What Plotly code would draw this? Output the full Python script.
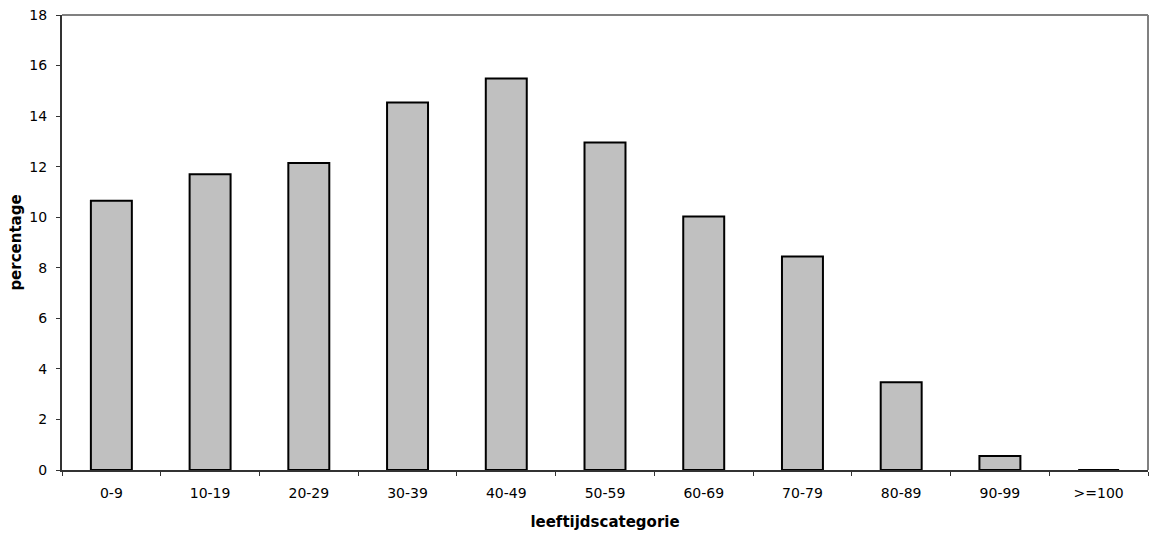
import plotly.graph_objects as go

categories = ["0-9", "10-19", "20-29", "30-39", "40-49", "50-59", "60-69", "70-79", "80-89", "90-99", ">=100"]
percentages = [10.65, 11.7, 12.15, 14.54, 15.49, 12.96, 10.03, 8.45, 3.47, 0.55, 0.0]
y_ticks = [0, 2, 4, 6, 8, 10, 12, 14, 16, 18]

fig = go.Figure(
    go.Bar(
        x=categories,
        y=percentages,
        marker=dict(color="#c0c0c0", line=dict(color="#000000", width=2)),
        width=0.415,
    )
)

font = "DejaVu Sans, Liberation Sans, Arial, sans-serif"
fig.update_layout(
    width=1151,
    height=536,
    margin=dict(l=62, r=3, t=15, b=66),
    plot_bgcolor="white",
    paper_bgcolor="white",
    showlegend=False,
    font=dict(family=font, size=14, color="#000000"),
)
fig.update_xaxes(
    type="category",
    automargin=False,
    showline=True,
    linecolor="#333333",
    linewidth=2,
    ticks="outside",
    tickson="boundaries",
    ticklen=4,
    tickcolor="#333333",
    showgrid=False,
    ticklabelstandoff=9,
    title=dict(text="<b>leeftijdscategorie</b>", font=dict(size=15), standoff=17),
    tickfont=dict(size=14),
)
fig.update_yaxes(
    range=[0, 18],
    tickvals=y_ticks,
    automargin=False,
    showline=True,
    linecolor="#333333",
    linewidth=2,
    ticks="outside",
    ticklen=4,
    tickcolor="#333333",
    showgrid=False,
    zeroline=False,
    ticklabelstandoff=6,
    title=dict(text="<b>percentage</b>", font=dict(size=15), standoff=4),
    tickfont=dict(size=14),
)
# gray top and right frame
fig.add_shape(type="line", xref="paper", yref="paper", x0=0, x1=1, y0=1, y1=1,
              line=dict(color="#808080", width=2))
fig.add_shape(type="line", xref="paper", yref="paper", x0=1, x1=1, y0=0, y1=1,
              line=dict(color="#808080", width=2))

fig.write_html(
    "out.html",
    config={"displayModeBar": False},
    post_script="document.body.style.margin='0px';document.body.style.overflow='hidden';",
)
